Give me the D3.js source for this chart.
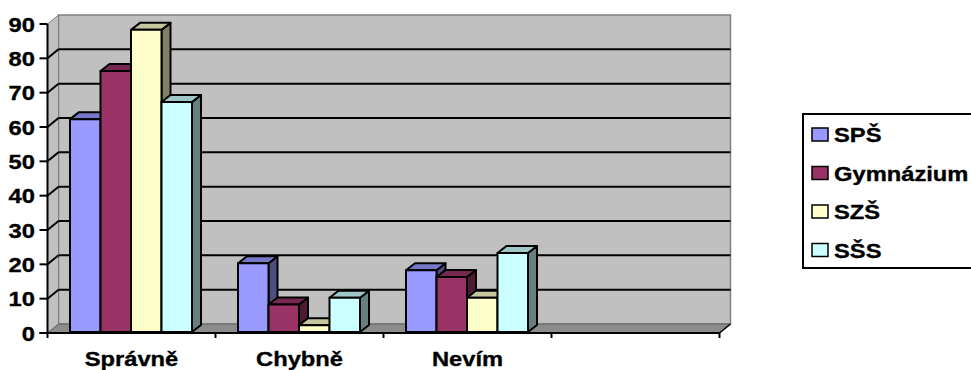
<!DOCTYPE html>
<html>
<head>
<meta charset="utf-8">
<script src="https://cdn.jsdelivr.net/npm/d3@7"></script>
<style>
  html, body { margin: 0; padding: 0; background: #fff; }
  svg { display: block; }
  text { font-family: "Liberation Sans", Arial, sans-serif; font-weight: bold; font-size: 21px; fill: #000; stroke: #000; stroke-width: 0.35px; }
</style>
</head>
<body>
<svg id="chart" width="971" height="370"></svg>
<script>
// ---- data ----
const categories = ["Správně", "Chybně", "Nevím"];
const series = ["SPŠ", "Gymnázium", "SZŠ", "SŠS"];
const valuesSPS = [62, 20, 18];
const valuesGym = [76, 8, 16];
const valuesSZS = [88, 2, 10];
const valuesSSS = [67, 10, 23];
const colors = ["#9999FF", "#993366", "#FFFFCC", "#CCFFFF"];
const yTicks = [0, 10, 20, 30, 40, 50, 60, 70, 80, 90];

const seriesValues = [valuesSPS, valuesGym, valuesSZS, valuesSSS];

// ---- layout ----
const svg = d3.select("#chart");
const front = { left: 47.5, right: 719.5, bottom: 333, top: 24 };
const wallDx = 11, wallDy = -9;
const barDx = 9, barDy = -7;
const SX = 1.13; // horizontal text stretch

// category slots (fourth slot is empty as in the original)
const x0 = d3.scaleBand()
  .domain([...categories, " "])
  .range([front.left, front.right]);
const x1 = d3.scaleBand()
  .domain(series)
  .range([22.5, 22.5 + 122]);
const y = d3.scaleLinear().domain([0, 90]).range([front.bottom, front.top]);
const yBar = d3.scaleLinear().domain([0, 90]).range([front.bottom - 1, front.top - 1]);

function stretchedText(g, x, yy, txt, anchor) {
  return g.append("text")
    .attr("transform", `translate(${x},${yy}) scale(${SX},1)`)
    .attr("text-anchor", anchor)
    .text(txt);
}

const pts = p => p.map(d => d.join(",")).join(" ");

// ---- walls ----
const bx0 = front.left + wallDx, bx1 = front.right + wallDx;
const by0 = front.top + wallDy, by1 = front.bottom + wallDy;

// back wall
svg.append("rect")
  .attr("x", bx0).attr("y", by0)
  .attr("width", bx1 - bx0).attr("height", by1 - by0)
  .attr("fill", "#C0C0C0").attr("stroke", "#808080").attr("stroke-width", 1.5);

// left side wall
svg.append("polygon")
  .attr("points", pts([[front.left, front.top], [bx0, by0], [bx0, by1], [front.left, front.bottom]]))
  .attr("fill", "#C0C0C0").attr("stroke", "#808080").attr("stroke-width", 1);

// gridlines (back wall + side wall)
const grid = svg.append("g");
yTicks.filter(v => v > 0 && v < 90).forEach(v => {
  const yf = y(v), yb = y(v) + wallDy;
  grid.append("line")
    .attr("x1", bx0).attr("x2", bx1).attr("y1", yb).attr("y2", yb)
    .attr("stroke", "#000").attr("stroke-width", 2);
  grid.append("line")
    .attr("x1", front.left).attr("x2", bx0).attr("y1", yf).attr("y2", yb)
    .attr("stroke", "#000").attr("stroke-width", 2);
});

// floor
svg.append("polygon")
  .attr("points", pts([[front.left, front.bottom], [bx0, by1], [bx1, by1], [front.right, front.bottom]]))
  .attr("fill", "#8C8C8C").attr("stroke", "#606060").attr("stroke-width", 1);

// ---- bars ----
const shade = (c, k) => { const r = d3.rgb(c); return d3.rgb(r.r * k, r.g * k, r.b * k).formatHex(); };
const barsG = svg.append("g");
categories.forEach((cat, ci) => {
  series.forEach((s, si) => {
    const v = seriesValues[si][ci];
    const xl = x0(cat) + x1(s);
    const w = x1.bandwidth();
    const yt = yBar(v), yb = yBar(0);
    const g = barsG.append("g").attr("stroke", "#000").attr("stroke-width", 2).attr("stroke-linejoin", "round");
    g.append("polygon")
      .attr("points", pts([[xl + w, yt], [xl + w + barDx, yt + barDy], [xl + w + barDx, yb + barDy], [xl + w, yb]]))
      .attr("fill", shade(colors[si], 0.5));
    g.append("polygon")
      .attr("points", pts([[xl, yt], [xl + barDx, yt + barDy], [xl + w + barDx, yt + barDy], [xl + w, yt]]))
      .attr("fill", shade(colors[si], 0.78));
    g.append("rect")
      .attr("x", xl).attr("y", yt).attr("width", w).attr("height", yb - yt)
      .attr("fill", colors[si]);
  });
});

// ---- axes ----
const axG = svg.append("g");
axG.append("line")
  .attr("x1", front.left).attr("x2", front.left)
  .attr("y1", front.top).attr("y2", front.bottom)
  .attr("stroke", "#000").attr("stroke-width", 2);
yTicks.forEach(v => {
  axG.append("line")
    .attr("x1", front.left - 8).attr("x2", front.left)
    .attr("y1", y(v)).attr("y2", y(v))
    .attr("stroke", "#000").attr("stroke-width", 2);
  stretchedText(axG, 35, y(v) + 7.5, String(v), "end");
});
axG.append("line")
  .attr("x1", front.left - 8).attr("x2", front.right)
  .attr("y1", front.bottom).attr("y2", front.bottom)
  .attr("stroke", "#000").attr("stroke-width", 2);
axG.append("line")
  .attr("x1", front.right).attr("x2", front.right + wallDx)
  .attr("y1", front.bottom).attr("y2", front.bottom + wallDy)
  .attr("stroke", "#000").attr("stroke-width", 1.5);
x0.domain().forEach(c => {
  axG.append("line")
    .attr("x1", x0(c)).attr("x2", x0(c))
    .attr("y1", front.bottom).attr("y2", front.bottom + 5)
    .attr("stroke", "#000").attr("stroke-width", 2);
});
axG.append("line")
  .attr("x1", front.right).attr("x2", front.right)
  .attr("y1", front.bottom).attr("y2", front.bottom + 5)
  .attr("stroke", "#000").attr("stroke-width", 2);
categories.forEach(c => {
  stretchedText(axG, x0(c) + x0.bandwidth() / 2, 366, c, "middle");
});

// ---- legend ----
const lg = svg.append("g");
lg.append("rect")
  .attr("x", 803).attr("y", 114).attr("width", 220).attr("height", 154)
  .attr("fill", "#fff").attr("stroke", "#000").attr("stroke-width", 2);
series.forEach((s, i) => {
  const base = 142 + i * 38.5;
  lg.append("rect")
    .attr("x", 812).attr("y", base - 14).attr("width", 16).attr("height", 13)
    .attr("fill", colors[i]).attr("stroke", "#000").attr("stroke-width", 1.5);
  stretchedText(lg, 834, base, s, "start");
});
</script>
</body>
</html>
